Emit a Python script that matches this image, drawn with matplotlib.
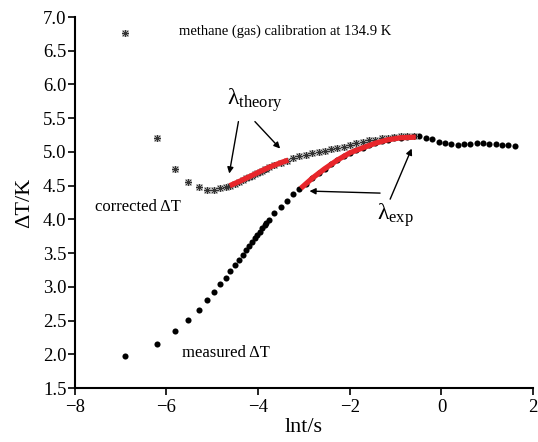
import matplotlib
matplotlib.use("Agg")
import matplotlib.pyplot as plt

plt.rcParams['font.family'] = 'Liberation Serif'
plt.rcParams['mathtext.fontset'] = 'custom'
plt.rcParams['mathtext.rm'] = 'Liberation Serif'
plt.rcParams['mathtext.it'] = 'Liberation Serif'

# measured temperature rise vs ln(t)
meas_x = [-6.91, -6.21, -5.81, -5.52, -5.30, -5.12, -4.96, -4.83, -4.71, -4.61,
          -4.51, -4.42, -4.34, -4.27, -4.20, -4.14, -4.07, -4.02, -3.96, -3.91,
          -3.86, -3.82, -3.77, -3.65, -3.51, -3.37, -3.24, -3.10, -2.96, -2.82,
          -2.68, -2.55, -2.41, -2.27, -2.13, -1.99, -1.86, -1.72, -1.58, -1.44,
          -1.30, -1.17, -1.03, -0.89, -0.75, -0.61, -0.48, -0.34, -0.20, -0.06,
          0.08, 0.21, 0.35, 0.49, 0.63, 0.77, 0.90, 1.04, 1.18, 1.32, 1.46, 1.60]
meas_y = [1.98, 2.16, 2.34, 2.51, 2.66, 2.80, 2.92, 3.04, 3.13, 3.23,
          3.32, 3.40, 3.47, 3.54, 3.60, 3.66, 3.72, 3.77, 3.82, 3.87,
          3.91, 3.95, 3.99, 4.09, 4.19, 4.28, 4.38, 4.45, 4.53, 4.61,
          4.69, 4.75, 4.82, 4.88, 4.94, 4.99, 5.03, 5.06, 5.10, 5.13,
          5.16, 5.18, 5.20, 5.21, 5.22, 5.23, 5.23, 5.21, 5.19, 5.15,
          5.13, 5.12, 5.11, 5.12, 5.12, 5.13, 5.13, 5.12, 5.12, 5.11, 5.10, 5.09]

# corrected temperature rise
corr_x = meas_x[:46]
corr_y = [6.76, 5.20, 4.74, 4.56, 4.48, 4.44, 4.44, 4.46, 4.48, 4.50,
          4.53, 4.56, 4.59, 4.61, 4.63, 4.65, 4.67, 4.69, 4.71, 4.72,
          4.74, 4.75, 4.77, 4.80, 4.84, 4.87, 4.91, 4.94, 4.96, 4.98,
          5.00, 5.02, 5.04, 5.06, 5.08, 5.11, 5.13, 5.15, 5.17, 5.18,
          5.20, 5.21, 5.22, 5.23, 5.23, 5.24]

# fitted lines
theory_x = [-4.62, -4.42, -4.20, -3.96, -3.77, -3.51, -3.34]
theory_y = [4.50, 4.56, 4.63, 4.71, 4.77, 4.84, 4.88]
exp_x = [-3.07, -2.82, -2.55, -2.27, -1.99, -1.72, -1.44, -1.17, -0.89, -0.56]
exp_y = [4.46, 4.61, 4.75, 4.88, 4.99, 5.06, 5.13, 5.18, 5.21, 5.22]

fig = plt.figure(figsize=(5.38, 4.42), dpi=100)
ax = fig.add_axes([0.139, 0.122, 0.852, 0.8395])

ax.plot(meas_x, meas_y, 'o', color='black', ms=4.4, mew=0, zorder=2)
ax.plot(corr_x, corr_y, 's', mfc='none', mec='#aaaaaa', ms=4.2, mew=0.6, zorder=2)
ax.plot(corr_x, corr_y, marker=(8, 2, 0), ls='none', color='#333333', ms=4.5, mew=0.7, zorder=3)
ax.plot(theory_x, theory_y, '-', color='#e8262b', lw=3.8, solid_capstyle='butt', zorder=4)
ax.plot(exp_x, exp_y, '-', color='#e8262b', lw=3.8, solid_capstyle='butt', zorder=4)

ax.set_xlim(-8, 2)
ax.set_ylim(1.5, 7.0)
ax.set_xticks([-8, -6, -4, -2, 0, 2])
ax.set_yticks([1.5, 2.0, 2.5, 3.0, 3.5, 4.0, 4.5, 5.0, 5.5, 6.0, 6.5, 7.0])
ax.set_yticklabels(['1.5', '2.0', '2.5', '3.0', '3.5', '4.0', '4.5', '5.0', '5.5', '6.0', '6.5', '7.0'])
ax.tick_params(direction='out', length=5, width=1.2, labelsize=13.5, pad=1)
ax.tick_params(axis='x', pad=3)
for s in ['top', 'right']:
    ax.spines[s].set_visible(False)
for s in ['left', 'bottom']:
    ax.spines[s].set_linewidth(1.5)

ax.set_xlabel('lnt/s', fontsize=16, labelpad=1)
ax.set_ylabel('ΔT/K', fontsize=16, labelpad=6)

ax.text(-3.41, 6.79, 'methane (gas) calibration at 134.9 K', fontsize=10.5, ha='center', va='center')
ax.text(-7.56, 4.18, 'corrected ΔT', fontsize=12, ha='left', va='center')
ax.text(-5.67, 2.02, 'measured ΔT', fontsize=12, ha='left', va='center')
ax.text(-4.07, 5.77, r'$\mathrm{λ}_{\mathrm{theory}}$', fontsize=17, ha='center', va='center')
ax.text(-1.01, 4.06, r'$\mathrm{λ}_{\mathrm{exp}}$', fontsize=17, ha='center', va='center')

arrow = dict(arrowstyle='-|>', color='black', lw=1.0, mutation_scale=9, shrinkA=0, shrinkB=0)
ax.annotate('', xy=(-4.63, 4.68), xytext=(-4.43, 5.45), arrowprops=arrow)
ax.annotate('', xy=(-3.52, 5.05), xytext=(-4.07, 5.45), arrowprops=arrow)
ax.annotate('', xy=(-2.88, 4.42), xytext=(-1.34, 4.39), arrowprops=arrow)
ax.annotate('', xy=(-0.65, 5.05), xytext=(-1.12, 4.30), arrowprops=arrow)

fig.savefig('out.png', dpi=100)
